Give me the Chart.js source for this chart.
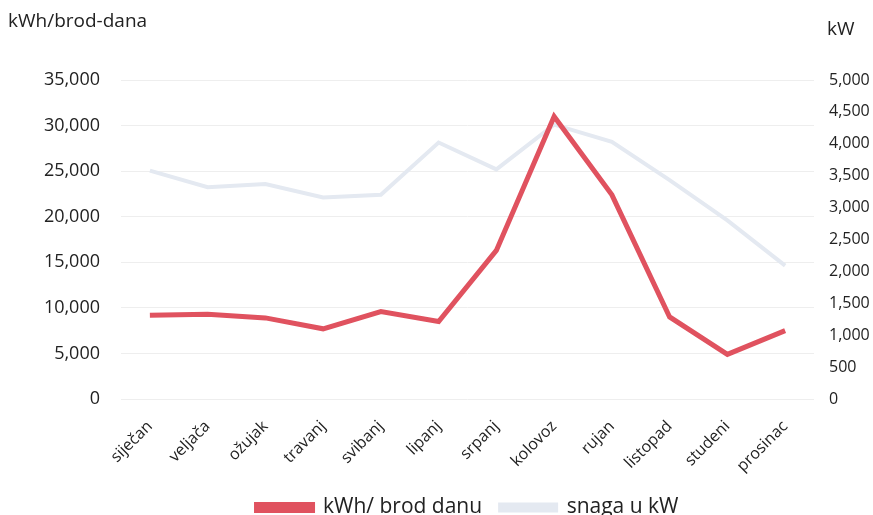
<!DOCTYPE html>
<html>
<head>
<meta charset="utf-8">
<script src="https://cdn.jsdelivr.net/npm/chart.js@4/dist/chart.umd.min.js"></script>
<style>
  html, body { margin: 0; padding: 0; background: #fff; }
  #wrap { width: 873px; height: 515px; position: relative; }
</style>
</head>
<body>
<div id="wrap"><canvas id="line-chart"></canvas></div>
<script>
const months = ['siječan', 'veljača', 'ožujak', 'travanj', 'svibanj', 'lipanj',
  'srpanj', 'kolovoz', 'rujan', 'listopad', 'studeni', 'prosinac'];
const kwhPerShipDay = [9200, 9300, 8900, 7700, 9600, 8500, 16300, 31000, 22400, 9000, 4900, 7500];
const powerKw = [3580, 3320, 3370, 3160, 3200, 4020, 3600, 4300, 4030, 3430, 2800, 2090];
const leftTitle = 'kWh/brod-dana';
const rightTitle = 'kW';

const font = '"Open Sans", "Noto Sans", sans-serif';
const textColor = '#222';

// axis unit labels sit above the axes, unrotated
const unitLabels = {
  id: 'unitLabels',
  afterDraw(chart) {
    const ctx = chart.ctx;
    ctx.save();
    ctx.fillStyle = textColor;
    ctx.font = '19px ' + font;
    ctx.textBaseline = 'middle';
    ctx.textAlign = 'left';
    ctx.fillText(leftTitle, 8, 22);
    ctx.fillText(rightTitle, 827, 30);
    ctx.restore();
  }
};

let config = {
  type: 'line',
  data: {
    labels: months,
    datasets: [{
      label: 'kWh/ brod danu',
      data: kwhPerShipDay,
      yAxisID: 'y',
      borderColor: '#E0525F',
      backgroundColor: '#E0525F',
      borderWidth: 5,
      pointRadius: 0,
      tension: 0,
      order: 1
    }, {
      label: 'snaga u kW',
      data: powerKw,
      yAxisID: 'y1',
      borderColor: '#E4E9F1',
      backgroundColor: '#E4E9F1',
      borderWidth: 4,
      pointRadius: 0,
      tension: 0,
      order: 2
    }]
  },
  options: {
    responsive: true,
    maintainAspectRatio: false,
    animation: false,
    locale: 'en-US',
    layout: { padding: { top: 80, bottom: -13, left: 0, right: 0 } },
    plugins: {
      legend: {
        position: 'bottom',
        fullSize: false,
        labels: {
          color: textColor,
          font: { family: font, size: 21 },
          boxWidth: 56,
          boxHeight: 6,
          padding: 18
        }
      },
      tooltip: { enabled: false }
    },
    scales: {
      x: {
        offset: true,
        grid: { display: false, drawTicks: false },
        border: { display: false },
        ticks: {
          color: textColor,
          font: { family: font, size: 16 },
          maxRotation: 45,
          minRotation: 45,
          padding: 18
        },
        afterFit: (s) => { s.height = 80; }
      },
      y: {
        position: 'left',
        min: 0,
        max: 35000,
        grid: { color: '#EEEEEE', lineWidth: 1, drawTicks: false },
        border: { display: false },
        ticks: {
          stepSize: 5000,
          color: textColor,
          font: { family: font, size: 18 },
          padding: 21
        },
        afterFit: (s) => { s.width = 121; }
      },
      y1: {
        position: 'right',
        min: 0,
        max: 5000,
        grid: { display: false, drawTicks: false },
        border: { display: false },
        ticks: {
          stepSize: 500,
          color: textColor,
          font: { family: font, size: 16 },
          padding: 15
        },
        afterFit: (s) => { s.width = 59; }
      }
    }
  },
  plugins: [unitLabels]
};

let ctx = document.getElementById('line-chart').getContext('2d');
window.myLine = new Chart(ctx, config);
</script>
</body>
</html>
